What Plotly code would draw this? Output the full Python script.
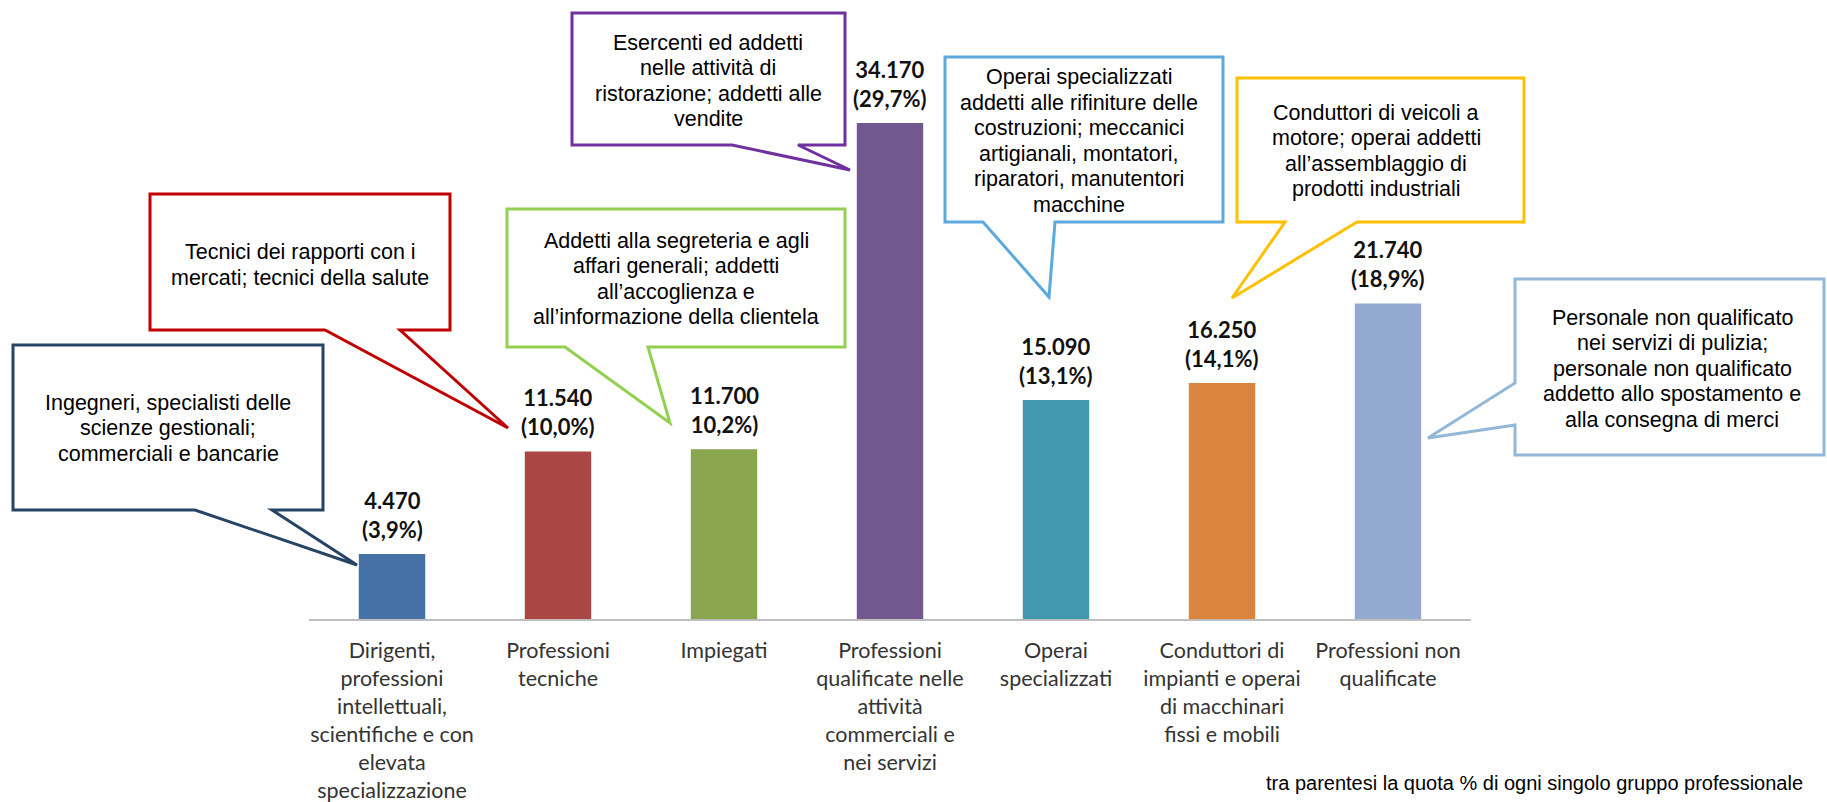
import plotly.graph_objects as go

# ---------------- data ----------------
categories = [
    "Dirigenti,<br>professioni<br>intellettuali,<br>scientifiche e con<br>elevata<br>specializzazione",
    "Professioni<br>tecniche",
    "Impiegati",
    "Professioni<br>qualificate nelle<br>attività<br>commerciali e<br>nei servizi",
    "Operai<br>specializzati",
    "Conduttori di<br>impianti e operai<br>di macchinari<br>fissi e mobili",
    "Professioni non<br>qualificate",
]
values = [4470, 11540, 11700, 34170, 15090, 16250, 21740]
pct_labels = ["(3,9%)", "(10,0%)", "10,2%)", "(29,7%)", "(13,1%)", "(14,1%)", "(18,9%)"]
bar_colors = ["#4571A7", "#AA4744", "#89A54E", "#71588F", "#4298AF", "#DB843D", "#94A9D0"]

callout_texts = [
    "Ingegneri, specialisti delle<br>scienze gestionali;<br>commerciali e bancarie",
    "Tecnici dei rapporti con i<br>mercati; tecnici della salute",
    "Addetti alla segreteria e agli<br>affari generali; addetti<br>all’accoglienza e<br>all’informazione della clientela",
    "Esercenti ed addetti<br>nelle attività di<br>ristorazione; addetti alle<br>vendite",
    "Operai specializzati<br>addetti alle rifiniture delle<br>costruzioni; meccanici<br>artigianali, montatori,<br>riparatori, manutentori<br>macchine",
    "Conduttori di veicoli a<br>motore; operai addetti<br>all’assemblaggio di<br>prodotti industriali",
    "Personale non qualificato<br>nei servizi di pulizia;<br>personale non qualificato<br>addetto allo spostamento e<br>alla consegna di merci",
]
callout_colors = ["#264465", "#C00000", "#92D050", "#7030A0", "#5DA9DD", "#FFC000", "#93B7D8"]
footnote = "tra parentesi la quota % di ogni singolo gruppo professionale"

# ---------------- layout geometry (pixels) ----------------
W = 1827
H_REF = 802
H = 815                      # page height actually rendered
VS = H / H_REF               # vertical stretch to compensate capture
L, R_EDGE = 309, 1471
TOP, BASE = 20 * VS, 619 * VS
PW, PH = R_EDGE - L, BASE - TOP
k = (619 - 123) * VS / max(values)      # px per unit
ymax = PH / k


def px(xp):
    return (xp - L) / PW


def py(yp):
    return (BASE - yp * VS) / PH


def path(points):
    return "M " + " L ".join(f"{px(a):.5f},{py(b):.5f}" for a, b in points) + " Z"


callout_shapes = [
    [(13, 345), (323, 345), (323, 510), (272, 510), (357, 565), (195, 510), (13, 510)],
    [(150, 194), (450, 194), (450, 330), (400, 330), (508, 428), (325, 330), (150, 330)],
    [(507, 209), (845, 209), (845, 347), (648, 347), (670, 423), (565, 347), (507, 347)],
    [(572, 13), (845, 13), (845, 145), (798, 145), (850, 170), (732, 145), (572, 145)],
    [(945, 57), (1223, 57), (1223, 222), (1055, 222), (1049, 297), (983, 222), (945, 222)],
    [(1237, 78), (1524, 78), (1524, 222), (1357, 222), (1232, 298), (1285, 222), (1237, 222)],
    [(1515, 279), (1824, 279), (1824, 455), (1515, 455), (1515, 425), (1428, 438), (1515, 383)],
]
callout_text_pos = [(168, 428), (300, 265), (676, 279), (708, 81), (1079, 141), (1376, 151), (1672, 369)]

fig = go.Figure()
fig.add_trace(go.Bar(
    x=list(range(len(values))),
    y=values,
    width=0.4,
    marker=dict(color=bar_colors, line=dict(width=0)),
    hoverinfo="skip",
))

shapes = []
annotations = []
for pts, col in zip(callout_shapes, callout_colors):
    shapes.append(dict(type="path", xref="paper", yref="paper", path=path(pts),
                       fillcolor="white", line=dict(color=col, width=3), layer="above"))
for txt, (tx, ty) in zip(callout_texts, callout_text_pos):
    lines = txt.split("<br>")
    n = len(lines)
    for j, ln in enumerate(lines):
        yy = ty + (j - (n - 1) / 2) * 25.5
        annotations.append(dict(xref="paper", yref="paper", x=px(tx), y=py(yy), text=ln,
                                showarrow=False, xanchor="center", yanchor="middle",
                                font=dict(family="Liberation Sans, Arial, sans-serif", size=21.5,
                                          color="#000000")))

for i, (v, p) in enumerate(zip(values, pct_labels)):
    annotations.append(dict(xref="x", yref="y", x=i, y=v,
                            text="<b>" + f"{v:,}".replace(",", ".") + "<br>" + p + "</b>",
                            showarrow=False, xanchor="center", yanchor="bottom", yshift=9,
                            font=dict(family="Lato, sans-serif", size=22, color="#111111")))

annotations.append(dict(xref="paper", yref="paper", x=px(1264), y=py(783), text=footnote,
                        showarrow=False, xanchor="left", yanchor="middle",
                        font=dict(family="Liberation Sans, Arial, sans-serif", size=20, color="#000000")))

fig.update_layout(
    width=W, height=H,
    margin=dict(l=L, r=W - R_EDGE, t=TOP, b=H - BASE, pad=0),
    paper_bgcolor="white", plot_bgcolor="white",
    showlegend=False,
    xaxis=dict(range=[-0.5, len(values) - 0.5], tickmode="array",
               tickvals=list(range(len(values))), ticktext=categories,
               showline=True, linecolor="#BEBEBE", linewidth=2, ticks="",
               showgrid=False, zeroline=False, ticklabelstandoff=11,
               tickfont=dict(family="Lato, sans-serif", size=21.5, color="#333333")),
    yaxis=dict(range=[0, ymax], visible=False, showgrid=False, zeroline=False),
    shapes=shapes,
    annotations=annotations,
)

fig.write_html("out.html", config={"displayModeBar": False},
               post_script="document.body.style.margin='0';")
